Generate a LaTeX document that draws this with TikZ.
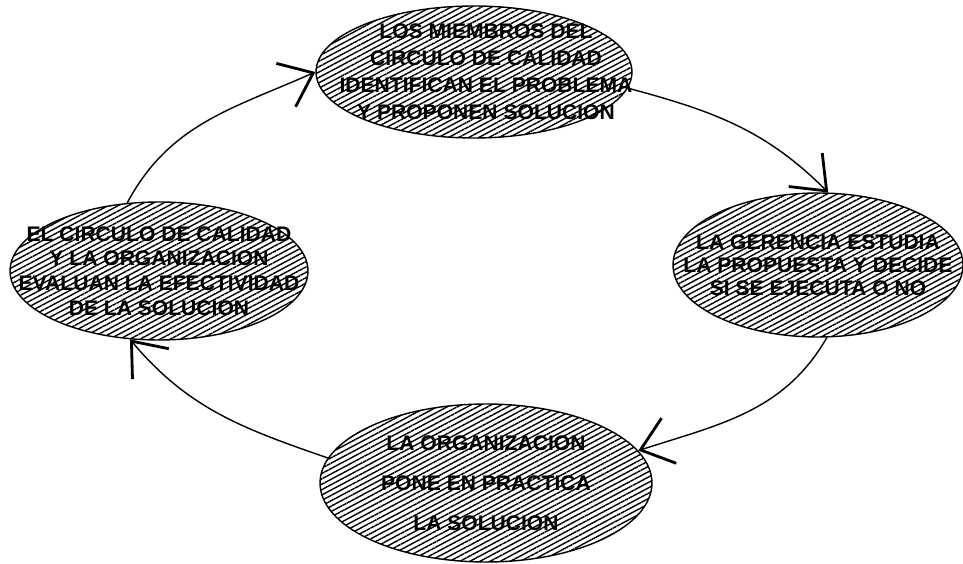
\documentclass[tikz,border=0pt]{standalone}
\usepackage{fontspec}
\setmainfont{Liberation Sans}
\usetikzlibrary{arrows.meta,shapes.geometric,patterns.meta}

\begin{document}
\begin{tikzpicture}[x=0.02cm,y=0.02cm,line width=0.8pt,
	etapa/.style={ellipse,draw,inner sep=0pt,
		pattern={Lines[angle=28,distance=2.7pt,line width=0.8pt]}},
	texto/.style={align=center,inner sep=0pt,font=\fontsize{12}{14}\selectfont\bfseries},
	flecha/.style={-{Straight Barb[length=17pt,width=27pt,line width=1.6pt]}}]
	\useasboundingbox (0,0) rectangle (963,564);
	% ellipses
	\node (propuesta) at (474,492) [etapa,minimum width=6.32cm,minimum height=2.64cm] {};
	\node (gerencia) at (818,299) [etapa,minimum width=5.8cm,minimum height=2.88cm] {};
	\node (practica) at (486,81) [etapa,minimum width=6.64cm,minimum height=3.16cm] {};
	\node (evalua) at (159,293) [etapa,minimum width=5.96cm,minimum height=2.76cm] {};
	% texts
	\node (propuestaT) at ([xshift=0.24cm]propuesta.center) [texto,font=\fontsize{12}{15.3}\selectfont\bfseries]
		{LOS MIEMBROS DEL\\CIRCULO DE CALIDAD\\IDENTIFICAN EL PROBLEMA\\Y PROPONEN SOLUCION};
	\node (gerenciaT) at (gerencia) [texto,font=\fontsize{12}{13.2}\selectfont\bfseries]
		{LA GERENCIA ESTUDIA\\LA PROPUESTA Y DECIDE\\SI SE EJECUTA O NO};
	\node (practicaT) at (practica) [texto,font=\fontsize{12}{22.7}\selectfont\bfseries]
		{LA ORGANIZACION\\PONE EN PRACTICA\\LA SOLUCION};
	\node (evaluaT) at (evalua) [texto]
		{EL CIRCULO DE CALIDAD\\Y LA ORGANIZACION\\EVALUAN LA EFECTIVIDAD\\DE LA SOLUCION};
	% cycle
	\draw [flecha] (evalua.115) to[out=62,in=204] (propuesta.west);
	\draw [flecha] (propuesta.-6) to[out=-15,in=135] (gerencia.82);
	\draw [flecha] (gerencia.277) to[out=240,in=18] (practica.12);
	\draw [flecha] (practica.171) to[out=161,in=-50] (evalua.247);
\end{tikzpicture}
\end{document}
